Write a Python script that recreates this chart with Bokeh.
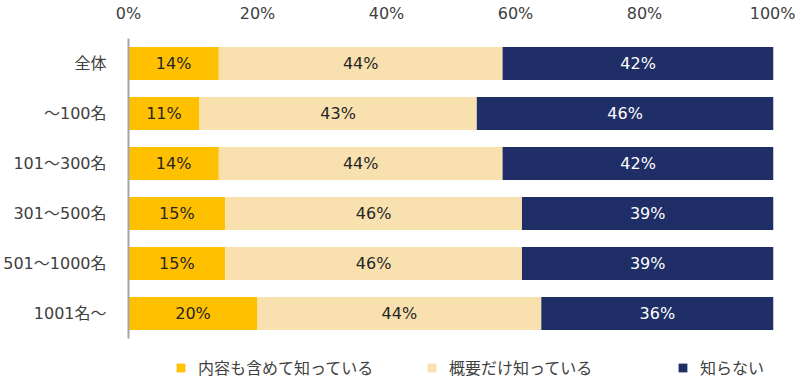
from bokeh.plotting import figure
from bokeh.models import (ColumnDataSource, Legend, LegendItem, FixedTicker, Range1d,
                          LabelSet, CustomJSTickFormatter)
from bokeh.embed import file_html
from bokeh.resources import INLINE
from bokeh.core.properties import value

categories = ["全体", "～100名", "101～300名", "301～500名", "501～1000名", "1001名～"]
series_names = ["内容も含めて知っている", "概要だけ知っている", "知らない"]
know_detail = [14, 11, 14, 15, 15, 20]
know_outline = [44, 43, 44, 46, 46, 44]
not_know = [42, 46, 42, 39, 39, 36]
colors = ["#FFC000", "#F8E1AF", "#1F2E66"]
label_colors = ["#262626", "#262626", "#FFFFFF"]
x_ticks = [0, 20, 40, 60, 80, 100]

FONT = "DejaVu Sans, Noto Sans CJK JP"
FS = "16px"

pos = list(range(len(categories)))
n = len(categories)
# reversed numeric range: first category on top, extra room at the bottom for the legend
p = figure(width=795, height=378, x_range=Range1d(0, 100), y_range=Range1d(n - 0.5 + 0.8, -0.5),
           x_axis_location="above", output_backend="svg", toolbar_location=None,
           min_border_left=126, min_border_right=22, min_border_top=38, min_border_bottom=0)
p.outline_line_color = None
p.xgrid.visible = False
p.ygrid.visible = False

series = [know_detail, know_outline, not_know]
renderers = []
left = [0] * n
for name, vals, col, lc in zip(series_names, series, colors, label_colors):
    right = [l + v for l, v in zip(left, vals)]
    src = ColumnDataSource(dict(y=pos, left=left, right=right,
                                mid=[(l + r) / 2 for l, r in zip(left, right)],
                                txt=[f"{v}%" for v in vals]))
    r = p.hbar(y="y", left="left", right="right", height=0.66, source=src,
               fill_color=col, line_color=None)
    renderers.append(r)
    lbl = LabelSet(x="mid", y="y", text="txt", source=src, text_align="center",
                   text_baseline="middle", text_color=lc, text_font_size=FS,
                   text_font=value(FONT))
    p.add_layout(lbl)
    left = right

p.xaxis.ticker = FixedTicker(ticks=x_ticks)
p.xaxis.formatter = CustomJSTickFormatter(code="return tick + '%';")
p.xaxis.axis_line_color = None
p.xaxis.major_tick_line_color = None
p.xaxis.minor_tick_line_color = None
p.xaxis.major_label_text_font = FONT
p.xaxis.major_label_text_font_size = FS
p.xaxis.major_label_text_color = "#404040"
p.xaxis.major_label_standoff = 10

p.yaxis.ticker = FixedTicker(ticks=pos)
p.yaxis.major_label_overrides = {i: c for i, c in zip(pos, categories)}
p.yaxis.bounds = (-0.5, n - 0.5)
p.yaxis.axis_line_color = "#A6A6A6"
p.yaxis.axis_line_width = 2
p.yaxis.major_tick_line_color = None
p.yaxis.minor_tick_line_color = None
p.yaxis.major_label_text_font = FONT
p.yaxis.major_label_text_font_size = FS
p.yaxis.major_label_text_color = "#404040"
p.yaxis.major_label_standoff = 16

items = [LegendItem(label=s, renderers=[r]) for s, r in zip(series_names, renderers)]
legend = Legend(items=items, orientation="horizontal", location=(47, -1),
                label_width=228, spacing=0, glyph_width=11, glyph_height=11,
                label_standoff=12, label_text_font=FONT, label_text_font_size=FS,
                label_text_color="#404040", border_line_color=None,
                background_fill_alpha=0, padding=0, margin=0)
p.add_layout(legend, "center")

open("out.html", "w").write(file_html(p, INLINE))
